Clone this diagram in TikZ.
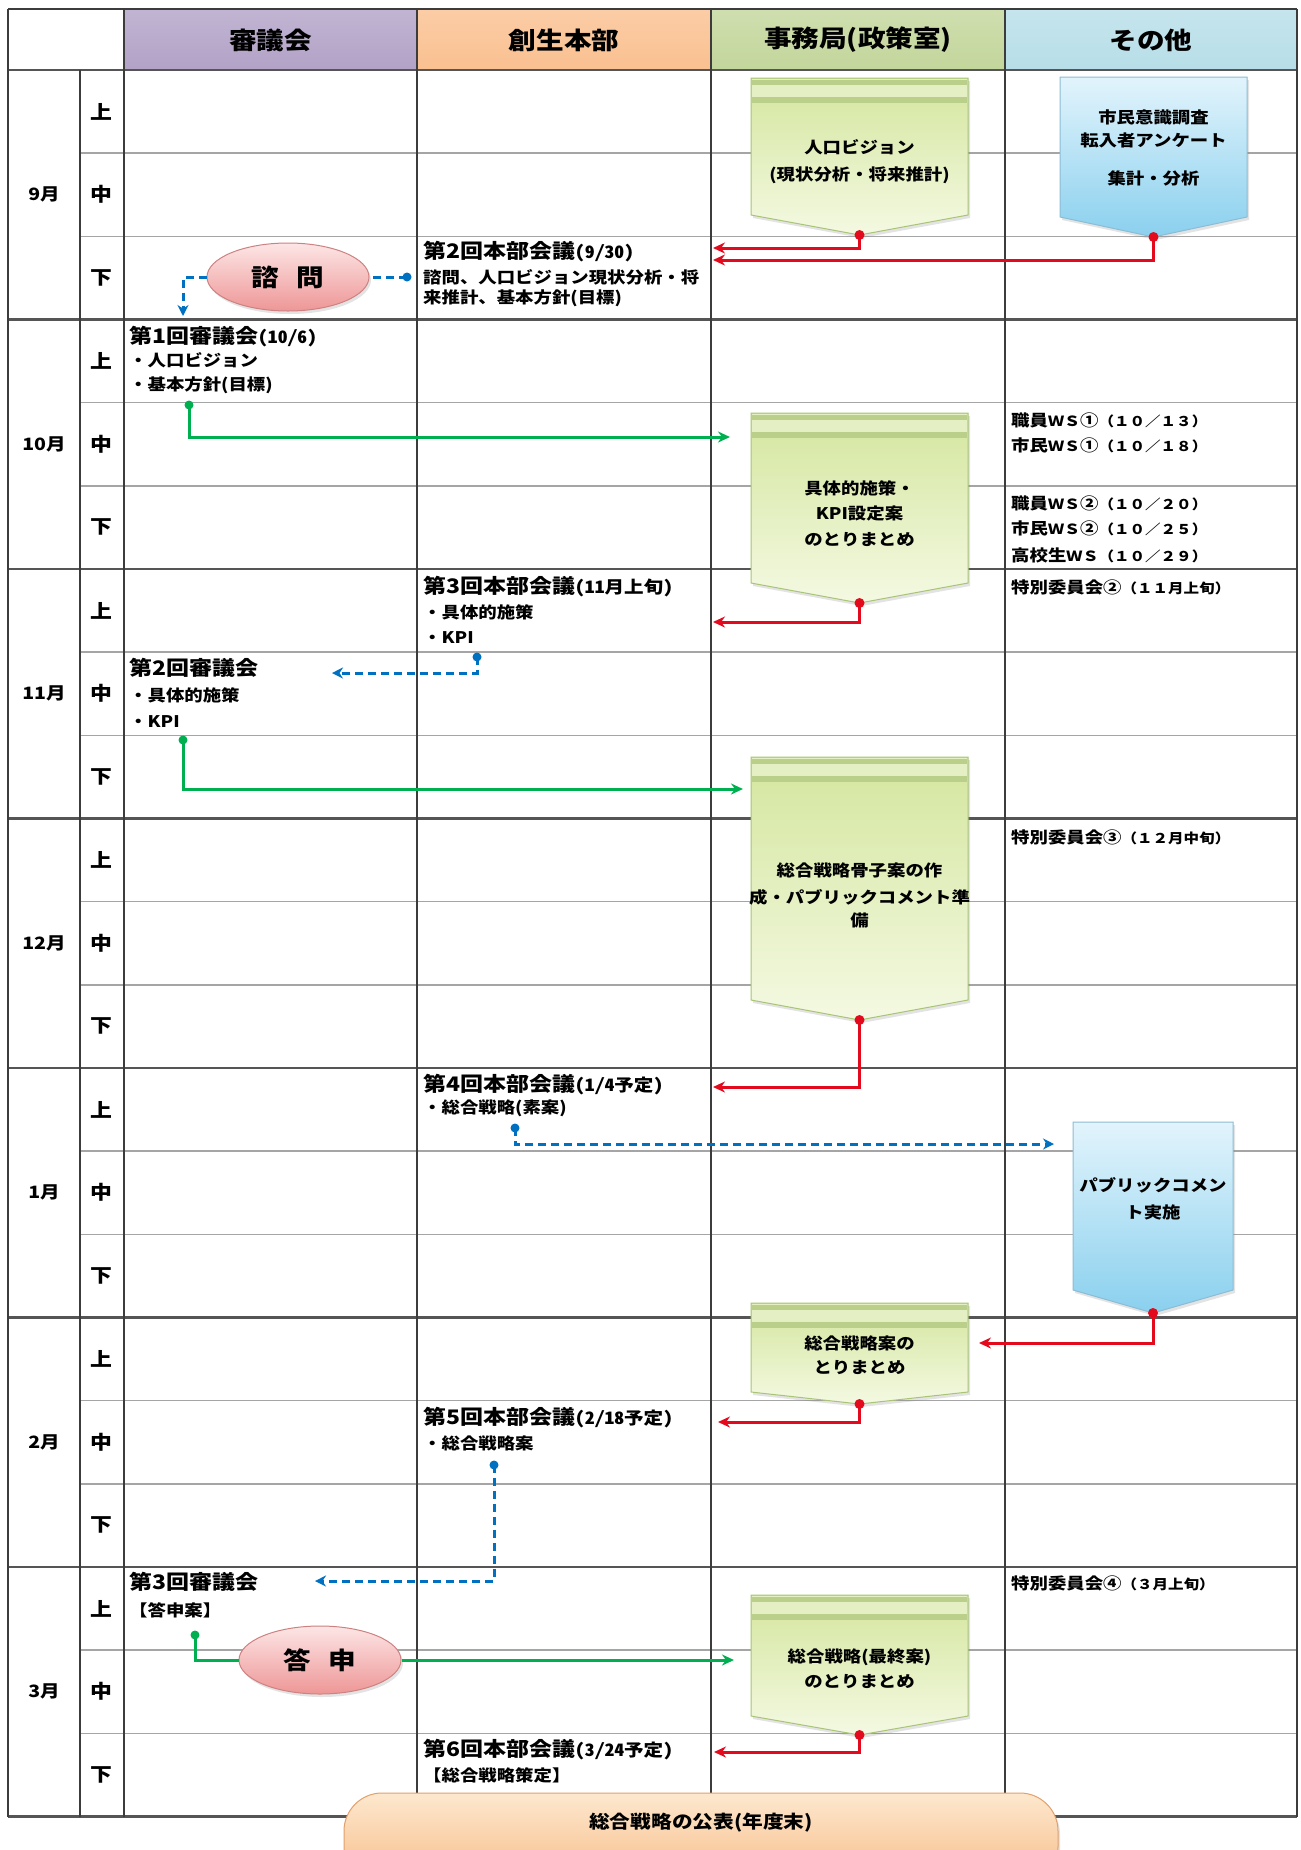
\documentclass[tikz,border=0pt]{standalone}
\usepackage{fontspec}
\setmainfont{Noto Sans CJK JP}[FakeStretch=1.15]
\newfontfamily\hwfam{Noto Sans CJK JP}[FakeStretch=1.15,CharacterWidth=Half]
\newfontfamily\fwfam{Noto Sans CJK JP}[FakeStretch=1.15,CharacterWidth=Full]
\usetikzlibrary{arrows.meta,shapes.geometric,shadows}
\definecolor{hpur}{RGB}{178,162,199}
\definecolor{hora}{RGB}{250,192,144}
\definecolor{hgrn}{RGB}{195,214,155}
\definecolor{hblu}{RGB}{183,222,232}
\definecolor{cred}{RGB}{228,10,30}
\definecolor{cgrn}{RGB}{0,176,80}
\definecolor{cblu}{RGB}{0,112,192}
\definecolor{gtop}{RGB}{212,230,158}
\definecolor{gbot}{RGB}{244,249,226}
\definecolor{gedge}{RGB}{168,196,116}
\definecolor{gband}{RGB}{186,208,138}
\definecolor{glite}{RGB}{228,239,196}
\definecolor{btop}{RGB}{226,244,252}
\definecolor{bbot}{RGB}{138,208,238}
\definecolor{bedge}{RGB}{140,188,212}
\definecolor{ptop}{RGB}{253,230,230}
\definecolor{pbot}{RGB}{238,150,150}
\definecolor{pedge}{RGB}{205,130,130}
\definecolor{otop}{RGB}{253,232,206}
\definecolor{obot}{RGB}{247,188,136}
\definecolor{oedge}{RGB}{226,160,108}
\definecolor{lmon}{RGB}{85,85,85}
\definecolor{lsub}{RGB}{165,165,165}
\definecolor{lver}{RGB}{60,60,60}
\newcommand\smh[1]{{\hwfam\fontsize{17}{19}\selectfont#1}}
\newcommand\smf[1]{{\fwfam\fontsize{13.5}{15}\selectfont#1}}
\newcommand\wsf[1]{{\fwfam\fontsize{14}{16}\selectfont#1}}
\newcommand\chevshape[6]{\shadedraw[#6] (#1,#3) -- (#2,#3) -- (#2,#4) -- ({(#1+#2)/2},#5) -- (#1,#4) -- cycle;}
\newcommand\chevbands[3]{%
  \fill[glite] (#1+1,#3+1) rectangle (#2-1,#3+25);
  \fill[gband] (#1+1,#3+2) rectangle (#2-1,#3+7);
  \fill[gband] (#1+1,#3+19) rectangle (#2-1,#3+25);}
\tikzset{
  monthline/.style={draw=lmon,line width=2.5pt},
  subline/.style={draw=lsub,line width=1.6pt},
  vline/.style={draw=lver,line width=1.3pt},
  softshadow/.style={drop shadow={opacity=0.22,shadow xshift=2pt,shadow yshift=-3pt}},
  gchev/.style={top color=gtop,bottom color=gbot,draw=gedge,line width=1pt,softshadow},
  bchev/.style={top color=btop,bottom color=bbot,draw=bedge,line width=1pt,softshadow},
  oval/.style={ellipse,top color=ptop,bottom color=pbot,draw=pedge,line width=1pt,softshadow,
    minimum width=162pt,minimum height=68pt,inner sep=0pt,font=\bfseries\fontsize{24}{26}\selectfont},
  hdr/.style={inner sep=0pt,font=\bfseries\fontsize{24}{26}\selectfont},
  mlab/.style={inner sep=0pt,font=\bfseries\fontsize{17}{19}\selectfont},
  slab/.style={inner sep=0pt,font=\bfseries\fontsize{19}{21}\selectfont},
  ttl/.style={anchor=west,inner sep=0pt,font=\bfseries\fontsize{20}{22}\selectfont},
  bod/.style={anchor=west,inner sep=0pt,font=\bfseries\fontsize{16}{18}\selectfont},
  oth/.style={anchor=west,inner sep=0pt,font=\bfseries\fontsize{16}{18}\selectfont},
  ctxt/.style={inner sep=0pt,font=\bfseries\fontsize{16}{18}\selectfont},
  redc/.style={draw=cred,line width=3pt,-{Stealth[length=12pt,width=11pt]}},
  grnc/.style={draw=cgrn,line width=3pt,-{Stealth[length=12pt,width=11pt]}},
  grnplain/.style={draw=cgrn,line width=3pt},
  bluc/.style={draw=cblu,line width=3pt,dash pattern=on 8pt off 5pt,-{Stealth[length=11pt,width=11pt]}},
  bluplain/.style={draw=cblu,line width=3pt,dash pattern=on 8pt off 5pt},
}
\begin{document}
\begin{tikzpicture}[x=1pt,y=-1pt]
\useasboundingbox (0,0) rectangle (1301,1850);
\fill[white] (0,0) rectangle (1301,1850);
% header
\shade[top color=hpur!80!white,bottom color=hpur] (124,9) rectangle (417,70);
\shade[top color=hora!80!white,bottom color=hora] (417,9) rectangle (711,70);
\shade[top color=hgrn!80!white,bottom color=hgrn] (711,9) rectangle (1005,70);
\shade[top color=hblu!80!white,bottom color=hblu] (1005,9) rectangle (1297,70);
% grid
\foreach \k in {0,...,6}{
  \pgfmathsetmacro\yy{70+249.5*\k}
  \draw[subline] (80,\yy+83.17) -- (1297,\yy+83.17);
  \draw[subline] (80,\yy+166.33) -- (1297,\yy+166.33);
  \draw[monthline] (8,\yy+249.5) -- (1297,\yy+249.5);
}
\draw[vline] (8,9) -- (1297,9);
\draw[monthline] (8,70) -- (1297,70);
\foreach \xx in {8,124,417,711,1005,1297}{\draw[vline] (\xx,9) -- (\xx,1817);}
\draw[vline] (80,70) -- (80,1817);
% header labels
\node[hdr] (h1) at (270.5,40) {審議会};
\node[hdr] (h2) at (564,40) {創生本部};
\node[hdr] (h3) at (858,40) {事務局(政策室)};
\node[hdr] (h4) at (1151,40) {その他};
% month and sub labels
\foreach \mname [count=\k from 0] in {9月,10月,11月,12月,1月,2月,3月}{
  \pgfmathsetmacro\yy{70+249.5*\k}
  \node[mlab] (m\k) at (44,\yy+124.75) {\mname};
  \node[slab] (s\k a) at (101,\yy+41.6) {上};
  \node[slab] (s\k b) at (101,\yy+124.75) {中};
  \node[slab] (s\k c) at (101,\yy+207.9) {下};
}
% chevron shapes
\chevshape{751}{968}{78}{215}{235}{gchev}
\chevbands{751}{968}{78}
\chevshape{1060}{1247}{77}{217}{237}{bchev}
\chevshape{751}{968}{413}{583}{603}{gchev}
\chevbands{751}{968}{413}
\chevshape{751}{968}{757}{1000}{1020}{gchev}
\chevbands{751}{968}{757}
\chevshape{1073}{1233}{1122}{1290}{1313}{bchev}
\chevshape{751}{968}{1303}{1392}{1404}{gchev}
\chevbands{751}{968}{1303}
\chevshape{751}{968}{1595}{1716}{1735}{gchev}
\chevbands{751}{968}{1595}
% chevron texts
\node[ctxt] (g1a) at (859.5,147) {人口ビジョン};
\node[ctxt] (g1b) at (859.5,175) {(現状分析・将来推計)};
\node[ctxt] (b1a) at (1153.5,117) {市民意識調査};
\node[ctxt] (b1b) at (1153.5,140) {転入者アンケート};
\node[ctxt] (b1c) at (1153.5,178) {集計・分析};
\node[ctxt] (g2a) at (859.5,488) {具体的施策・};
\node[ctxt] (g2b) at (859.5,513) {KPI設定案};
\node[ctxt] (g2c) at (859.5,540) {のとりまとめ};
\node[ctxt] (g3a) at (859.5,870) {総合戦略骨子案の作};
\node[ctxt] (g3b) at (859.5,897) {成・パブリックコメント準};
\node[ctxt] (g3c) at (859.5,920) {備};
\node[ctxt] (b2a) at (1153,1185) {パブリックコメン};
\node[ctxt] (b2b) at (1153,1212) {ト実施};
\node[ctxt] (g4a) at (859.5,1343) {総合戦略案の};
\node[ctxt] (g4b) at (859.5,1368) {とりまとめ};
\node[ctxt] (g5a) at (859.5,1657) {総合戦略(最終案)};
\node[ctxt] (g5b) at (859.5,1682) {のとりまとめ};
% ovals
\node[oval] (shimon) at (288,277) {諮\hspace{18pt}問};
\node[oval] (toshin) at (320,1660) {答\hspace{18pt}申};
% bottom pill
\shadedraw[top color=otop,bottom color=obot,draw=oedge,line width=1pt,rounded corners=38pt,softshadow] (344,1793) rectangle (1058,1885);
\node[inner sep=0pt,font=\bfseries\fontsize{18}{20}\selectfont] (pub) at (701,1823) {総合戦略の公表(年度末)};
% texts: 創生本部
\node[ttl] (hq2a) at (423,252) {第2回本部会議\smh{(9/30)}};
\node[bod] (hq2b) at (423,277) {諮問、人口ビジョン現状分析・将};
\node[bod] (hq2c) at (423,298) {来推計、基本方針(目標)};
\node[ttl] (hq3a) at (423,587) {第3回本部会議\smh{(11月上旬)}};
\node[bod] (hq3b) at (423,612) {・具体的施策};
\node[bod] (hq3c) at (423,638) {・KPI};
\node[ttl] (hq4a) at (423,1085) {第4回本部会議\smh{(1/4予定)}};
\node[bod] (hq4b) at (423,1108) {・総合戦略(素案)};
\node[ttl] (hq5a) at (423,1418) {第5回本部会議\smh{(2/18予定)}};
\node[bod] (hq5b) at (423,1443) {・総合戦略案};
\node[ttl] (hq6a) at (423,1750) {第6回本部会議\smh{(3/24予定)}};
\node[bod] (hq6b) at (423,1775) {【総合戦略策定】};
% texts: 審議会
\node[ttl] (sh1a) at (129,337) {第1回審議会\smh{(10/6)}};
\node[bod] (sh1b) at (129,360) {・人口ビジョン};
\node[bod] (sh1c) at (129,385) {・基本方針(目標)};
\node[ttl] (sh2a) at (129,668) {第2回審議会};
\node[bod] (sh2b) at (129,695) {・具体的施策};
\node[bod] (sh2c) at (129,722) {・KPI};
\node[ttl] (sh3a) at (129,1582) {第3回審議会};
\node[bod] (sh3b) at (129,1610) {【答申案】};
% texts: その他
\node[oth] (o1) at (1011,420) {職員\wsf{WS}①\smf{(10/13)}};
\node[oth] (o2) at (1011,445) {市民\wsf{WS}①\smf{(10/18)}};
\node[oth] (o3) at (1011,503) {職員\wsf{WS}②\smf{(10/20)}};
\node[oth] (o4) at (1011,528) {市民\wsf{WS}②\smf{(10/25)}};
\node[oth] (o5) at (1011,555) {高校生\wsf{WS}\smf{(10/29)}};
\node[oth] (o6) at (1011,587) {特別委員会②\smf{(11月上旬)}};
\node[oth] (o7) at (1011,837) {特別委員会③\smf{(12月中旬)}};
\node[oth] (o8) at (1011,1583) {特別委員会④\smf{(3月上旬)}};
% coordinates
\coordinate (g1tip) at (859.5,235);
\coordinate (b1tip) at (1153.5,237);
\coordinate (g2tip) at (859.5,603);
\coordinate (g3tip) at (859.5,1020);
\coordinate (b2tip) at (1153,1313);
\coordinate (g4tip) at (859.5,1404);
\coordinate (g5tip) at (859.5,1735);
\coordinate (r1e) at (713,248);
\coordinate (r2e) at (713,260);
\coordinate (r3e) at (713,622);
\coordinate (r4e) at (713,1087);
\coordinate (r5e) at (979,1343);
\coordinate (r6e) at (718,1422);
\coordinate (r7e) at (714,1752);
\coordinate (e1s) at (189,405);
\coordinate (e1e) at (730,437);
\coordinate (e2s) at (183,740);
\coordinate (e2e) at (743,789);
\coordinate (e3s) at (195,1635);
\coordinate (e3e) at (734,1660);
\coordinate (d1s) at (407,277);
\coordinate (d1e) at (183,316);
\coordinate (d2s) at (477,657);
\coordinate (d2e) at (332,673);
\coordinate (d3s) at (515,1128);
\coordinate (d3e) at (1054,1144);
\coordinate (d4s) at (494,1465);
\coordinate (d4e) at (315,1581);
% red connectors
\draw[redc] (g1tip) |- (r1e);
\draw[redc] (b1tip) |- (r2e);
\draw[redc] (g2tip) |- (r3e);
\draw[redc] (g3tip) |- (r4e);
\draw[redc] (b2tip) |- (r5e);
\draw[redc] (g4tip) |- (r6e);
\draw[redc] (g5tip) |- (r7e);
\foreach \p in {g1tip,b1tip,g2tip,g3tip,b2tip,g4tip,g5tip}{\fill[cred] (\p) circle (5pt);}
% green connectors
\draw[grnc] (e1s) |- (e1e);
\draw[grnc] (e2s) |- (e2e);
\draw[grnplain] (e3s) |- (toshin.west);
\draw[grnc] (toshin.east) -- (e3e);
\foreach \p in {e1s,e2s,e3s}{\fill[cgrn] (\p) circle (4.5pt);}
% blue dashed connectors
\draw[bluplain] (d1s) -- (shimon.east);
\draw[bluc] (shimon.west) -| (d1e);
\draw[bluc] (d2s) |- (d2e);
\draw[bluc] (d3s) |- (d3e);
\draw[bluc] (d4s) |- (d4e);
\foreach \p in {d1s,d2s,d3s,d4s}{\fill[cblu] (\p) circle (4.5pt);}
\end{tikzpicture}
\end{document}
